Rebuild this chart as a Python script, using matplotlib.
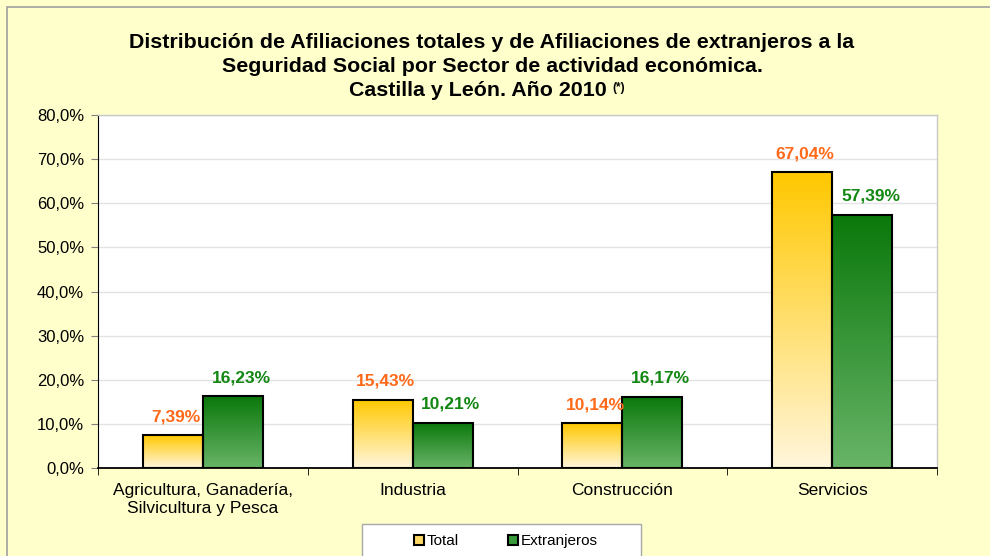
import numpy as np
import matplotlib
matplotlib.use("Agg")
import matplotlib.pyplot as plt
from matplotlib.patches import Rectangle
from matplotlib.ticker import FuncFormatter, FixedLocator

plt.rcParams['font.family'] = ['Liberation Sans', 'DejaVu Sans']

categories = ["Agricultura, Ganadería,\nSilvicultura y Pesca", "Industria", "Construcción", "Servicios"]
total = [7.39, 15.43, 10.14, 67.04]
extranjeros = [16.23, 10.21, 16.17, 57.39]
series_names = ["Total", "Extranjeros"]

bg = "#FFFFCC"
fig = plt.figure(figsize=(9.9, 5.56), dpi=100, facecolor=bg)
ax = fig.add_axes([98 / 990, 88 / 556, 839 / 990, 353 / 556])
ax.set_facecolor("white")

# outer chart border (only top/left visible in the reference)
fig.patches.append(Rectangle((7 / 990, -0.1), 1.2, 1 - 7 / 556 + 0.1, transform=fig.transFigure,
                             facecolor="none", edgecolor="#A0A0A0", lw=1.2))

x = np.arange(len(categories))
w = 0.286


def gradient_bars(xs, vals, top, bottom):
    cmap = matplotlib.colors.LinearSegmentedColormap.from_list("g", [bottom, top])
    grad = np.linspace(0, 1, 256).reshape(-1, 1)
    bars = ax.bar(xs, vals, w, facecolor="none", edgecolor="black", lw=1.5, zorder=3)
    for b in bars:
        x0, y0 = b.get_x(), b.get_y()
        im = ax.imshow(grad, cmap=cmap, origin="lower", aspect="auto",
                       extent=[x0, x0 + b.get_width(), y0, y0 + b.get_height()], zorder=2)
        im.set_clip_path(b)
    return bars


gradient_bars(x - w / 2, total, "#FFC800", "#FFF6DC")
gradient_bars(x + w / 2, extranjeros, "#0A780A", "#68B468")

for xi, v in zip(x - w / 2, total):
    ax.annotate(f"{v:.2f}%".replace(".", ","), (xi, v), xytext=(2, 8), textcoords="offset points",
                ha="center", va="bottom", color="#FF6A1A", fontsize=12.5, fontweight="bold")
for xi, v in zip(x + w / 2, extranjeros):
    ax.annotate(f"{v:.2f}%".replace(".", ","), (xi, v), xytext=(6, 8), textcoords="offset points",
                ha="center", va="bottom", color="#128712", fontsize=12.5, fontweight="bold")

ax.set_xlim(-0.5, 3.5)
ax.set_ylim(0, 80)
ax.set_yticks(np.arange(0, 81, 10))
ax.yaxis.set_major_formatter(FuncFormatter(lambda v, p: f"{v:.1f}%".replace(".", ",")))
ax.grid(axis="y", color="#E3E3E3", lw=1, zorder=0)
ax.set_axisbelow(True)

ax.set_xticks(x)
ax.set_xticklabels(categories, fontsize=12.5, linespacing=1.2)
ax.tick_params(axis="x", length=0, pad=11)
ax.xaxis.set_minor_locator(FixedLocator([-0.5, 0.5, 1.5, 2.5, 3.5]))
ax.tick_params(axis="x", which="minor", length=5, direction="out", color="black")
ax.tick_params(axis="y", labelsize=12, length=5, direction="out", color="#808080", pad=5)

for s in ["top", "right"]:
    ax.spines[s].set_color("#C8C8C8")
    ax.spines[s].set_linewidth(1)
ax.spines["left"].set_color("black")
ax.spines["bottom"].set_color("black")
ax.spines["bottom"].set_linewidth(1.3)

# title
fig.text(0.497, 1 - 42 / 556, "Distribución de Afiliaciones totales y de Afiliaciones de extranjeros a la",
         ha="center", va="center", fontsize=15.4, fontweight="bold")
fig.text(0.497, 1 - 66 / 556, "Seguridad Social por Sector de actividad económica.",
         ha="center", va="center", fontsize=15.4, fontweight="bold")
t3 = fig.text(0.483, 1 - 90 / 556, "Castilla y León. Año 2010",
              ha="center", va="center", fontsize=15.4, fontweight="bold")
ax.annotate("(*)", xy=(1, 1), xycoords=t3, xytext=(4, -1), textcoords="offset points",
            ha="left", va="top", fontsize=8.5, fontweight="bold")

# legend
fig.patches.append(Rectangle((362 / 990, -0.05), 279 / 990, (556 - 524) / 556 + 0.05,
                             transform=fig.transFigure, facecolor="white", edgecolor="#A8A8A8", lw=1))
handles = [
    plt.Line2D([], [], marker="s", ls="none", markersize=7, markerfacecolor="#FFD966", markeredgecolor="black", markeredgewidth=1.5),
    plt.Line2D([], [], marker="s", ls="none", markersize=7, markerfacecolor="#3A9A3A", markeredgecolor="black", markeredgewidth=1.5),
]
fig.legend(handles, series_names, loc="center", bbox_to_anchor=(0.51, 1 - 541 / 556), ncol=2,
           frameon=False, fontsize=11, handlelength=0.8, handletextpad=0.1, columnspacing=3.15)

fig.savefig("out.png", dpi=100, facecolor=bg)
